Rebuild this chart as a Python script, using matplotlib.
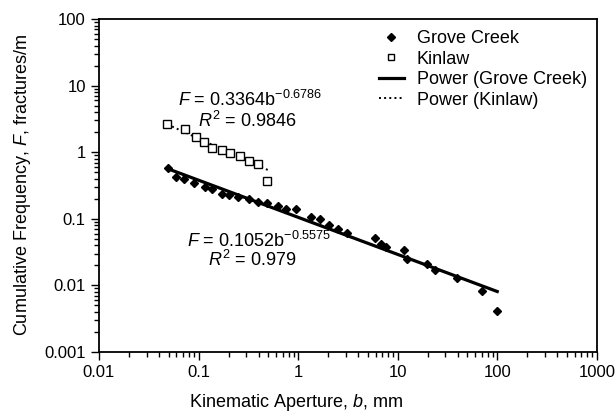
import matplotlib
matplotlib.use('Agg')
import matplotlib.pyplot as plt
import numpy as np
from matplotlib.ticker import LogLocator, FuncFormatter, NullFormatter

plt.rcParams['font.family'] = ['Liberation Sans', 'DejaVu Sans']
plt.rcParams['mathtext.fontset'] = 'custom'
plt.rcParams['mathtext.rm'] = 'Liberation Sans'
plt.rcParams['mathtext.it'] = 'Liberation Sans:italic'

# Grove Creek (aperture mm, cumulative frequency fractures/m)
grove_b = [0.049, 0.060, 0.072, 0.091, 0.116, 0.137, 0.171, 0.203, 0.251, 0.323,
           0.397, 0.483, 0.622, 0.748, 0.95, 1.35, 1.67, 2.02, 2.53, 3.07,
           5.86, 6.77, 7.67, 11.5, 12.3, 19.7, 23.6, 39.3, 69.5, 99.8]
grove_f = [0.573, 0.420, 0.396, 0.341, 0.297, 0.277, 0.236, 0.228, 0.215, 0.198,
           0.181, 0.175, 0.156, 0.140, 0.139, 0.106, 0.1007, 0.0815, 0.0695, 0.0605,
           0.0509, 0.0423, 0.0381, 0.0337, 0.0247, 0.0210, 0.0169, 0.0128, 0.0083, 0.00413]

# Kinlaw
kin_b = [0.0486, 0.073, 0.0935, 0.113, 0.137, 0.171, 0.207, 0.261, 0.323, 0.395, 0.49]
kin_f = [2.62, 2.23, 1.71, 1.41, 1.17, 1.08, 0.962, 0.877, 0.730, 0.665, 0.373]

# power trendline coefficients shown on the chart
grove_a, grove_n, grove_r2 = 0.1052, -0.5575, 0.979
kin_a, kin_n, kin_r2 = 0.3364, -0.6786, 0.9846

fig = plt.figure(figsize=(6.16, 4.15), dpi=100)
ax = fig.add_axes([0.1607, 0.152, 0.8083, 0.802])

ax.plot(grove_b, grove_f, 'D', color='black', markersize=4.5, label='Grove Creek', zorder=3)
ax.plot(kin_b, kin_f, 's', color='black', markerfacecolor='white', markeredgewidth=1.0,
        markersize=6, label='Kinlaw', zorder=3)

gb = np.logspace(np.log10(min(grove_b)), np.log10(max(grove_b)), 50)
ax.plot(gb, grove_a * gb ** grove_n, '-', color='black', lw=2.3, label='Power (Grove Creek)', zorder=2)
kb = np.logspace(np.log10(min(kin_b)), np.log10(max(kin_b) * 1.06), 50)
ax.plot(kb, kin_a * kb ** kin_n, ':', color='black', lw=1.4, label='Power (Kinlaw)', zorder=2)

ax.set_xscale('log')
ax.set_yscale('log')
ax.set_xlim(0.01, 1000)
ax.set_ylim(0.001, 100)

fmt = FuncFormatter(lambda v, p: '{:g}'.format(v))
ax.xaxis.set_major_locator(LogLocator(base=10, numticks=10))
ax.yaxis.set_major_locator(LogLocator(base=10, numticks=10))
ax.xaxis.set_minor_locator(LogLocator(base=10, subs=np.arange(2, 10), numticks=20))
ax.yaxis.set_minor_locator(LogLocator(base=10, subs=np.arange(2, 10), numticks=20))
ax.xaxis.set_major_formatter(fmt)
ax.yaxis.set_major_formatter(fmt)
ax.xaxis.set_minor_formatter(NullFormatter())
ax.yaxis.set_minor_formatter(NullFormatter())
ax.tick_params(which='both', direction='out', top=False, right=False, labelsize=12, width=1)
ax.tick_params(which='major', length=6)
ax.tick_params(which='minor', length=3.5)
for s in ax.spines.values():
    s.set_linewidth(1.3)

ax.set_xlabel('Kinematic Aperture, $\\it{b}$, mm', fontsize=13, labelpad=8)
ax.xaxis.set_label_coords(0.395, -0.12)
ax.set_ylabel('Cumulative Frequency, $\\it{F}$, fractures/m', fontsize=13, labelpad=8)

ax.text(0.33, 6.1, '$\\it{F}$ = %.4fb$^{%.4f}$' % (kin_a, kin_n), fontsize=13, ha='center', va='center')
ax.text(0.31, 2.97, '$\\it{R}^2$ = %.4f' % kin_r2, fontsize=13, ha='center', va='center')
ax.text(0.40, 0.0469, '$\\it{F}$ = %.4fb$^{%.4f}$' % (grove_a, grove_n), fontsize=13, ha='center', va='center')
ax.text(0.35, 0.024, '$\\it{R}^2$ = %.3f' % grove_r2, fontsize=13, ha='center', va='center')

ax.legend(loc='upper left', bbox_to_anchor=(0.54, 1.0), frameon=False, fontsize=13,
          handlelength=1.4, handletextpad=0.7, labelspacing=0.2, borderaxespad=0.2,
          markerscale=0.8)

fig.savefig('out.png', dpi=100)
